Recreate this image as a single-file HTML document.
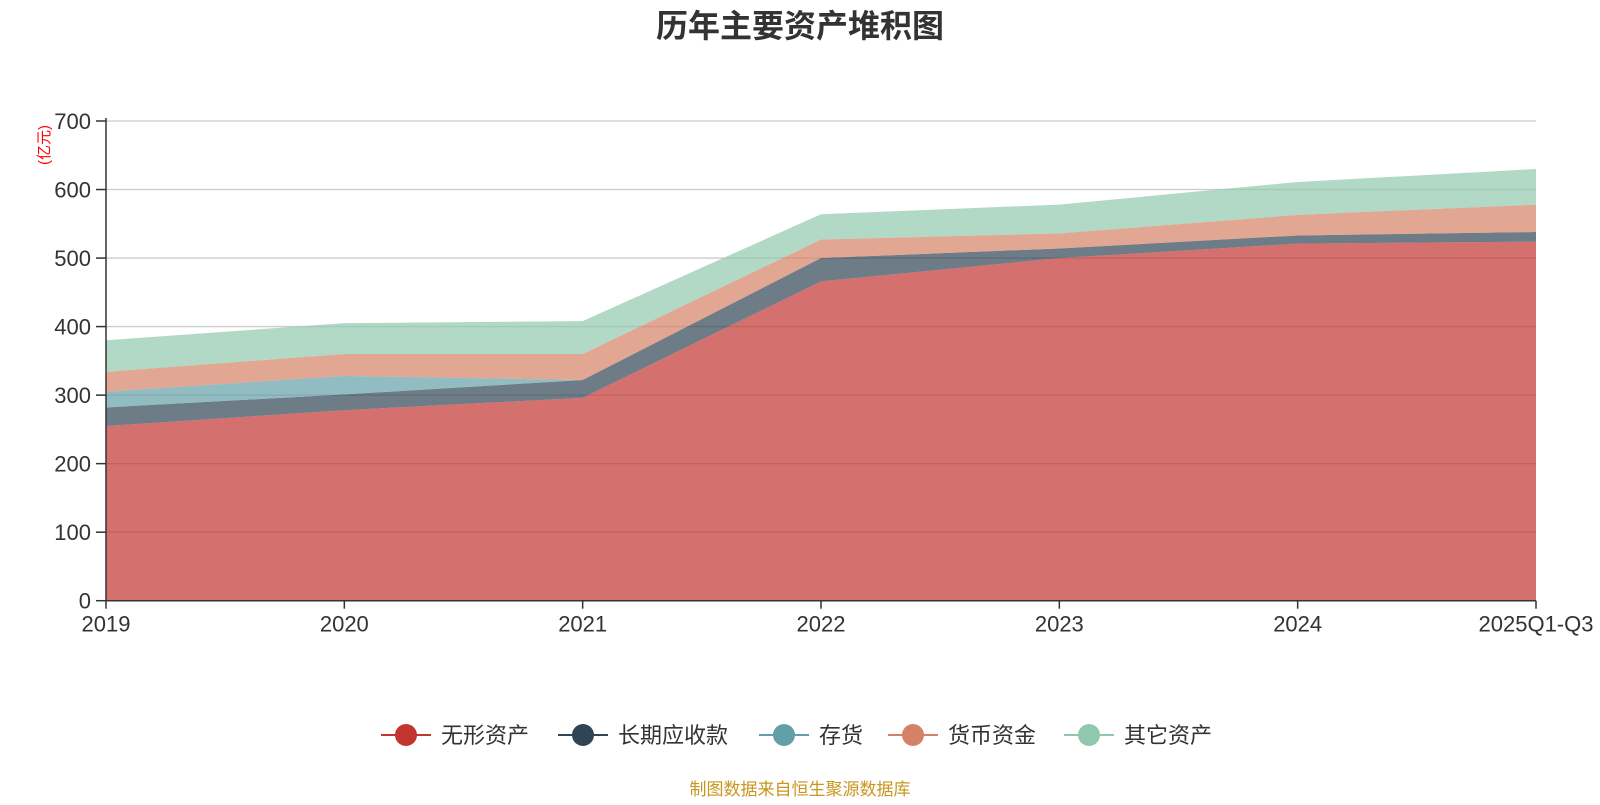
<!DOCTYPE html>
<html><head><meta charset="utf-8"><style>
body{margin:0;background:#fff;width:1600px;height:800px;overflow:hidden;font-family:"Liberation Sans","Noto Sans CJK SC",sans-serif}
</style></head><body>
<svg id="chart" width="1600" height="800" xmlns="http://www.w3.org/2000/svg" font-family="Liberation Sans, Noto Sans CJK SC, sans-serif">
<text x="800" y="37" text-anchor="middle" font-size="32" font-weight="bold" fill="#333">历年主要资产堆积图</text>
<text transform="translate(49,145) rotate(-90)" text-anchor="middle" font-size="15" fill="#ff0000">(亿元)</text>
<g id="grid"></g><g id="areas"></g><g id="axes"></g><g id="legend"></g>
<text x="800" y="795" text-anchor="middle" font-size="17" fill="#c8961e">制图数据来自恒生聚源数据库</text>
</svg>
<script>
const categories=["2019","2020","2021","2022","2023","2024","2025Q1-Q3"];
const seriesNames=["无形资产","长期应收款","存货","货币资金","其它资产"];
const intangible=[255,278,296,466,500,521,524];
const longReceivable=[27,23,26,34,14,12,14];
const inventory=[23,27,0,0,0,0,0];
const cash=[29,32,38,27,22,30,40];
const other=[46,45,48,37,42,48,52];
const yTicks=[0,100,200,300,400,500,600,700];
const colors=["#c23531","#2f4554","#61a0a8","#d48265","#91c7ae"];
const X0=106,X1=1536,Y0=600.7,Y1=121,YMAX=700;
const xs=i=>X0+(X1-X0)*i/(categories.length-1);
const ys=v=>Y0-(Y0-Y1)*v/YMAX;
const NS="http://www.w3.org/2000/svg";
function mk(t,a,p){const e=document.createElementNS(NS,t);for(const k in a)e.setAttribute(k,a[k]);p.appendChild(e);return e;}
const grid=document.getElementById('grid'),areas=document.getElementById('areas'),axes=document.getElementById('axes'),legend=document.getElementById('legend');
yTicks.forEach(v=>{
  if(v>0){const l=mk('line',{x1:X0,x2:X1,y1:ys(v),y2:ys(v),stroke:'#ccc','stroke-width':1.3},grid);
  
  }
  const tk=mk('line',{x1:X0-10,x2:X0,y1:ys(v),y2:ys(v),stroke:'#333','stroke-width':1.5},axes);
  
  
  const t=mk('text',{x:X0-15,y:ys(v)+8,'text-anchor':'end','font-size':22,fill:'#333'},axes);
  t.textContent=v;
  
  
});
const series=[intangible,longReceivable,inventory,cash,other];
let base=categories.map(()=>0);
series.forEach((s,si)=>{
  const top=base.map((b,i)=>b+s[i]);
  let d='M'+top.map((v,i)=>xs(i)+','+ys(v)).join(' L');
  for(let i=base.length-1;i>=0;i--)d+=' L'+xs(i)+','+ys(base[i]);
  d+=' Z';
  const p=mk('path',{d:d,fill:colors[si],'fill-opacity':0.7},areas);
  
  
  base=top;
});
const ya=mk('line',{x1:X0,x2:X0,y1:Y1-3,y2:Y0,stroke:'#333','stroke-width':1.5},axes);


const xa=mk('line',{x1:X0,x2:X1,y1:Y0,y2:Y0,stroke:'#333','stroke-width':1.5},axes);


categories.forEach((c,i)=>{
  const tk=mk('line',{x1:xs(i),x2:xs(i),y1:Y0,y2:Y0+8,stroke:'#333','stroke-width':1.5},axes);
  
  
  const t=mk('text',{x:xs(i),y:Y0+31,'text-anchor':'middle','font-size':22,fill:'#333'},axes);
  t.textContent=c;
  
  
});
const lx=[381,558,759,888,1064];
seriesNames.forEach((n,i)=>{
  const g=mk('g',{},legend);
  
  
  mk('line',{x1:lx[i],x2:lx[i]+50,y1:735,y2:735,stroke:colors[i],'stroke-width':2},g);
  mk('circle',{cx:lx[i]+25,cy:735,r:11,fill:colors[i]},g);
  const t=mk('text',{x:lx[i]+60,y:743,'font-size':22,fill:'#333'},g);
  t.textContent=n;
});
</script>
</body></html>
